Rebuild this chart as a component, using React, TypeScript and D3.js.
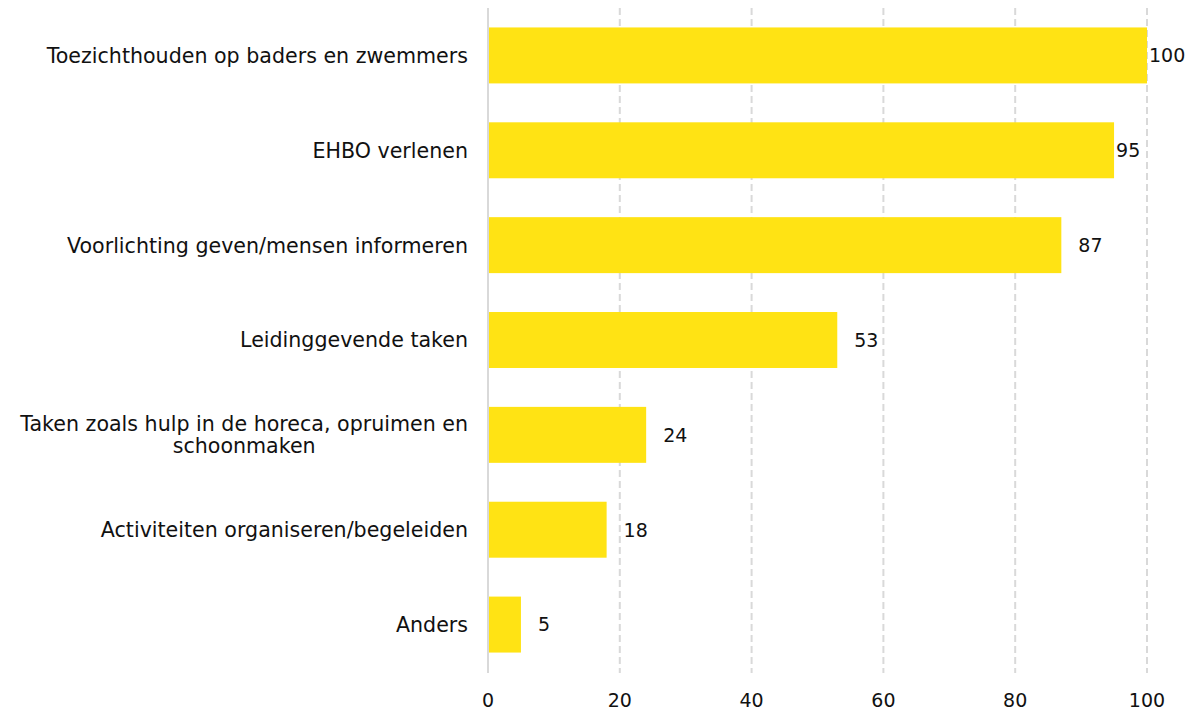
import React, { useEffect, useRef } from "react";
import * as d3 from "d3";

const categories = [
  "Toezichthouden op baders en zwemmers",
  "EHBO verlenen",
  "Voorlichting geven/mensen informeren",
  "Leidinggevende taken",
  "Taken zoals hulp in de horeca, opruimen en|schoonmaken",
  "Activiteiten organiseren/begeleiden",
  "Anders",
];
const values = [100, 95, 87, 53, 24, 18, 5];
const xTicks = [0, 20, 40, 60, 80, 100];

const W = 1191;
const H = 710;
const margin = { left: 488, right: 44, top: 8, bottom: 38 };
const FONT = "'DejaVu Sans', sans-serif";

export default function App() {
  const ref = useRef<SVGSVGElement>(null);
  useEffect(() => {
    document.body.style.margin = "0";
    const svg = d3.select(ref.current);
    svg.selectAll("*").remove();
    const x = d3.scaleLinear().domain([0, 100]).range([margin.left, W - margin.right]);
    const y = d3
      .scaleBand<string>()
      .domain(categories)
      .range([margin.top, H - margin.bottom])
      .paddingInner(0.41)
      .paddingOuter(0.205);

    const g = svg.append("g");
    g.selectAll("line.grid")
      .data(xTicks)
      .join("line")
      .attr("x1", (d) => x(d))
      .attr("x2", (d) => x(d))
      .attr("y1", margin.top)
      .attr("y2", H - margin.bottom + 1)
      .attr("stroke", "#d9d9d9")
      .attr("stroke-width", 2)
      .attr("stroke-dasharray", (d) => (d === 0 ? null : "7,4"));

    g.selectAll("rect.bar")
      .data(values)
      .join("rect")
      .attr("x", x(0) + 1)
      .attr("y", (_, i) => y(categories[i])!)
      .attr("width", (d) => x(d) - x(0) - 1)
      .attr("height", y.bandwidth())
      .attr("fill", "#FFE314");

    g.selectAll("text.val")
      .data(values)
      .join("text")
      .attr("x", (d) => x(d) + (d >= 90 ? 2 : 17))
      .attr("y", (_, i) => y(categories[i])! + y.bandwidth() / 2)
      .attr("dy", "0.36em")
      .attr("font-family", FONT)
      .attr("font-size", 19)
      .attr("fill", "#111")
      .text((d) => String(d));

    const labelRight = margin.left - 20;
    categories.forEach((c) => {
      const lines = c.split("|");
      const cy = y(c)! + y.bandwidth() / 2;
      const lh = 22;
      const t = g
        .append("text")
        .attr("font-family", FONT)
        .attr("font-size", 20.6)
        .attr("fill", "#111");
      const tspans = lines.map((ln, k) =>
        t
          .append("tspan")
          .attr("y", cy + (k - (lines.length - 1) / 2) * lh)
          .attr("dy", "0.36em")
          .text(ln)
      );
      if (lines.length === 1) {
        t.attr("text-anchor", "end");
        tspans[0].attr("x", labelRight);
      } else {
        const widths = tspans.map((s) => (s.node() as SVGTSpanElement).getComputedTextLength());
        const maxW = Math.max(...widths);
        t.attr("text-anchor", "middle");
        tspans.forEach((s) => s.attr("x", labelRight - maxW / 2));
      }
    });

    g.selectAll("text.tick")
      .data(xTicks)
      .join("text")
      .attr("x", (d) => x(d))
      .attr("y", H - 10)
      .attr("text-anchor", "middle")
      .attr("dy", "0.36em")
      .attr("font-family", FONT)
      .attr("font-size", 19)
      .attr("fill", "#111")
      .text((d) => String(d));
  }, []);
  return <svg ref={ref} width={W} height={H} style={{ display: "block" }} />;
}
